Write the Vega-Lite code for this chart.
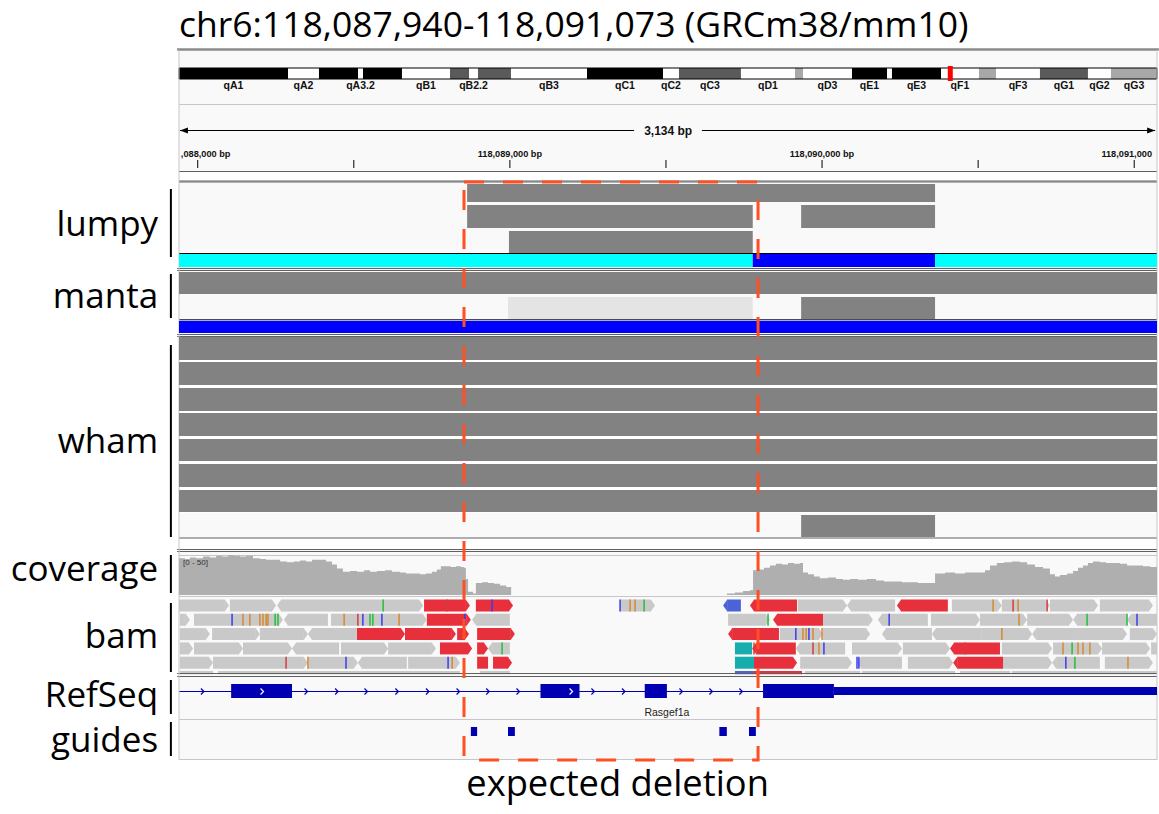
{
"$schema": "https://vega.github.io/schema/vega-lite/v6.json",
"width": 1159, "height": 814, "autosize": "none", "padding": 0,
"background": "#ffffff",
"config": {"view": {"stroke": null}},
"resolve": {"scale": {"x": "independent", "y": "independent"}},
"datasets": {
"panels": [
{"start":118087940,"end":118091073,"top":51,"bottom":171,"kind":"bg"},
{"start":118087940,"end":118091073,"top":171,"bottom":181,"kind":"white"},
{"start":118087940,"end":118091073,"top":183,"bottom":760,"kind":"bg"},
{"start":118087940,"end":118091073,"top":336,"bottom":513,"kind":"white"},
{"start":118087940,"end":118091073,"top":538,"bottom":550,"kind":"white"}
],
"covers": [
{"start":118087940,"end":118091073,"top":674.2,"bottom":760,"kind":"bg"}
],
"bands": [
{"name":"qA1","mbStart":0,"mbEnd":16.69,"top":68,"bottom":79,"kind":"gpos100"},
{"name":"qA2","mbStart":16.69,"mbEnd":21.43,"top":68,"bottom":79,"kind":"gneg"},
{"name":"qA3.1","mbStart":21.43,"mbEnd":27.41,"top":68,"bottom":79,"kind":"gpos100"},
{"name":"qA3.2","mbStart":27.41,"mbEnd":28.17,"top":68,"bottom":79,"kind":"gneg"},
{"name":"qA3.3","mbStart":28.17,"mbEnd":34.14,"top":68,"bottom":79,"kind":"gpos100"},
{"name":"qB1","mbStart":34.14,"mbEnd":41.49,"top":68,"bottom":79,"kind":"gneg"},
{"name":"qB2.1","mbStart":41.49,"mbEnd":44.40,"top":68,"bottom":79,"kind":"gpos75"},
{"name":"qB2.2","mbStart":44.40,"mbEnd":45.78,"top":68,"bottom":79,"kind":"gneg"},
{"name":"qB2.3","mbStart":45.78,"mbEnd":50.83,"top":68,"bottom":79,"kind":"gpos75"},
{"name":"qB3","mbStart":50.83,"mbEnd":62.47,"top":68,"bottom":79,"kind":"gneg"},
{"name":"qC1","mbStart":62.47,"mbEnd":74.10,"top":68,"bottom":79,"kind":"gpos100"},
{"name":"qC2","mbStart":74.10,"mbEnd":76.55,"top":68,"bottom":79,"kind":"gneg"},
{"name":"qC3","mbStart":76.55,"mbEnd":86.04,"top":68,"bottom":79,"kind":"gpos75"},
{"name":"qD1","mbStart":86.04,"mbEnd":94.31,"top":68,"bottom":79,"kind":"gneg"},
{"name":"qD2","mbStart":94.31,"mbEnd":95.54,"top":68,"bottom":79,"kind":"gpos33"},
{"name":"qD3","mbStart":95.54,"mbEnd":103.04,"top":68,"bottom":79,"kind":"gneg"},
{"name":"qE1","mbStart":103.04,"mbEnd":108.40,"top":68,"bottom":79,"kind":"gpos100"},
{"name":"qE2","mbStart":108.40,"mbEnd":109.16,"top":68,"bottom":79,"kind":"gneg"},
{"name":"qE3","mbStart":109.16,"mbEnd":116.67,"top":68,"bottom":79,"kind":"gpos100"},
{"name":"qF1","mbStart":116.67,"mbEnd":122.48,"top":68,"bottom":79,"kind":"gneg"},
{"name":"qF2","mbStart":122.48,"mbEnd":125.09,"top":68,"bottom":79,"kind":"gpos33"},
{"name":"qF3","mbStart":125.09,"mbEnd":131.82,"top":68,"bottom":79,"kind":"gneg"},
{"name":"qG1","mbStart":131.82,"mbEnd":139.17,"top":68,"bottom":79,"kind":"gpos75"},
{"name":"qG2","mbStart":139.17,"mbEnd":142.69,"top":68,"bottom":79,"kind":"gneg"},
{"name":"qG3","mbStart":142.69,"mbEnd":149.74,"top":68,"bottom":79,"kind":"gpos33"}
],
"ideoOutline": [
{"mbStart":0,"mbEnd":149.74,"top":68,"bottom":79}
],
"ideoMarker": [
{"mb":118.0895,"top":66,"bottom":81}
],
"bandLabels": [
{"name":"qA1","mb":8.34,"top":86},{"name":"qA2","mb":19.06,"top":86},{"name":"qA3.2","mb":27.79,"top":86},{"name":"qB1","mb":37.82,"top":86},
{"name":"qB2.2","mb":45.09,"top":86},{"name":"qB3","mb":56.65,"top":86},{"name":"qC1","mb":68.28,"top":86},{"name":"qC2","mb":75.33,"top":86},
{"name":"qC3","mb":81.3,"top":86},{"name":"qD1","mb":90.18,"top":86},{"name":"qD3","mb":99.29,"top":86},{"name":"qE1","mb":105.72,"top":86},
{"name":"qE3","mb":112.92,"top":86},{"name":"qF1","mb":119.57,"top":86},{"name":"qF3","mb":128.46,"top":86},{"name":"qG1","mb":135.5,"top":86},
{"name":"qG2","mb":140.93,"top":86},{"name":"qG3","mb":146.22,"top":86}
],
"hlines": [
{"start":118087940,"end":118091073,"top":104.5,"kind":"line_light"},
{"start":118087943,"end":118089398,"top":130.5,"kind":"line_black"},
{"start":118089615,"end":118091067,"top":130.5,"kind":"line_black"},
{"start":118087940,"end":118091073,"top":171.5,"kind":"line_dark"},
{"start":118087940,"end":118091073,"top":181,"kind":"line_dark"},
{"start":118087940,"end":118091073,"top":182,"kind":"line_dark"},
{"start":118087940,"end":118091073,"top":253.5,"kind":"line_black"},
{"start":118087934,"end":118091073,"top":268.5,"kind":"line_dark"},
{"start":118087934,"end":118091073,"top":270.5,"kind":"line_dark"},
{"start":118087940,"end":118091073,"top":319.8,"kind":"line_black"},
{"start":118087934,"end":118091073,"top":334.5,"kind":"line_dark"},
{"start":118087934,"end":118091073,"top":336.5,"kind":"line_dark"},
{"start":118087940,"end":118091073,"top":538,"kind":"line_dark"},
{"start":118087934,"end":118091073,"top":549.5,"kind":"line_dark"},
{"start":118087934,"end":118091073,"top":551.5,"kind":"line_dark"},
{"start":118087940,"end":118091073,"top":555.5,"kind":"line_light"},
{"start":118087940,"end":118091073,"top":596.5,"kind":"line_light"},
{"start":118087934,"end":118091073,"top":673.5,"kind":"line_dark"},
{"start":118087934,"end":118091073,"top":676.5,"kind":"line_dark"},
{"start":118087940,"end":118089811,"top":691.5,"kind":"line_blue"},
{"start":118087940,"end":118091073,"top":719.5,"kind":"line_light"},
{"start":118087940,"end":118091073,"top":759.5,"kind":"line_light"}
],
"thick": [
{"start":118087934,"end":118091079,"top":49.5,"kind":"line_title"}
],
"vlines": [
{"start":118087940,"top":50,"bottom":760,"kind":"line_light"},
{"start":118091073,"top":50,"bottom":760,"kind":"line_light"},
{"start":118088000,"top":160,"bottom":168,"kind":"line_black"},
{"start":118088500,"top":160,"bottom":168,"kind":"line_black"},
{"start":118089000,"top":160,"bottom":168,"kind":"line_black"},
{"start":118089500,"top":160,"bottom":168,"kind":"line_black"},
{"start":118090000,"top":160,"bottom":168,"kind":"line_black"},
{"start":118090500,"top":160,"bottom":168,"kind":"line_black"},
{"start":118091000,"top":160,"bottom":168,"kind":"line_black"}
],
"brackets": [
{"start":118087914,"top":189,"bottom":257},
{"start":118087914,"top":274,"bottom":318},
{"start":118087914,"top":345,"bottom":537},
{"start":118087914,"top":555,"bottom":593},
{"start":118087914,"top":603,"bottom":672},
{"start":118087914,"top":680,"bottom":714},
{"start":118087914,"top":722,"bottom":756}
],
"rulerArrows": [
{"start":118087943,"top":130.5,"dir":"left","kind":"line_black"},
{"start":118091067,"top":130.5,"dir":"right","kind":"line_black"}
],
"features": [
{"start":118088863,"end":118090362,"top":184,"bottom":202,"kind":"sv"},
{"start":118088863,"end":118089778,"top":205,"bottom":228,"kind":"sv"},
{"start":118089933,"end":118090362,"top":205,"bottom":228,"kind":"sv"},
{"start":118088997,"end":118089778,"top":231,"bottom":253,"kind":"sv"},
{"start":118087940,"end":118089778,"top":254,"bottom":267,"kind":"af_ref"},
{"start":118089778,"end":118090362,"top":254,"bottom":267,"kind":"af_alt"},
{"start":118090362,"end":118091073,"top":254,"bottom":267,"kind":"af_ref"},
{"start":118087940,"end":118091073,"top":272,"bottom":294,"kind":"sv"},
{"start":118088994,"end":118089778,"top":297,"bottom":319,"kind":"sv_light"},
{"start":118089933,"end":118090362,"top":297,"bottom":319,"kind":"sv"},
{"start":118087940,"end":118091073,"top":321,"bottom":333,"kind":"af_alt"},
{"start":118087940,"end":118091073,"top":337,"bottom":360,"kind":"sv"},
{"start":118087940,"end":118091073,"top":362,"bottom":385,"kind":"sv"},
{"start":118087940,"end":118091073,"top":388,"bottom":411,"kind":"sv"},
{"start":118087940,"end":118091073,"top":413,"bottom":436,"kind":"sv"},
{"start":118087940,"end":118091073,"top":439,"bottom":461,"kind":"sv"},
{"start":118087940,"end":118091073,"top":464,"bottom":487,"kind":"sv"},
{"start":118087940,"end":118091073,"top":490,"bottom":512,"kind":"sv"},
{"start":118089933,"end":118090362,"top":515,"bottom":537,"kind":"sv"},
{"start":118088107,"end":118088302,"top":684,"bottom":698,"kind":"exon"},
{"start":118089098,"end":118089223,"top":684,"bottom":698,"kind":"exon"},
{"start":118089432,"end":118089503,"top":684,"bottom":698,"kind":"exon"},
{"start":118089811,"end":118090038,"top":684,"bottom":698,"kind":"exon"},
{"start":118090038,"end":118091073,"top":687,"bottom":695,"kind":"exon"},
{"start":118088875,"end":118088895,"top":727,"bottom":736,"kind":"exon"},
{"start":118088994,"end":118089016,"top":727,"bottom":736,"kind":"exon"},
{"start":118089671,"end":118089695,"top":727,"bottom":736,"kind":"exon"},
{"start":118089766,"end":118089788,"top":727,"bottom":736,"kind":"exon"}
],
"chevrons": [
{"start":118088015,"top":691.5,"kind":"chevron"},{"start":118088347,"top":691.5,"kind":"chevron"},
{"start":118088445,"top":691.5,"kind":"chevron"},{"start":118088539,"top":691.5,"kind":"chevron"},
{"start":118088638,"top":691.5,"kind":"chevron"},{"start":118088736,"top":691.5,"kind":"chevron"},
{"start":118088834,"top":691.5,"kind":"chevron"},{"start":118088929,"top":691.5,"kind":"chevron"},
{"start":118089026,"top":691.5,"kind":"chevron"},{"start":118089266,"top":691.5,"kind":"chevron"},
{"start":118089364,"top":691.5,"kind":"chevron"},{"start":118089548,"top":691.5,"kind":"chevron"},
{"start":118089644,"top":691.5,"kind":"chevron"},{"start":118089740,"top":691.5,"kind":"chevron"},
{"start":118088206,"top":691.5,"kind":"chevron_white"},{"start":118089196,"top":691.5,"kind":"chevron_white"}
],
"coverage": [
{"start":118087940,"depth":46},{"start":118087959,"depth":45},{"start":118087975,"depth":47},{"start":118087994,"depth":46},
{"start":118088017,"depth":48},{"start":118088039,"depth":47},{"start":118088059,"depth":49},{"start":118088078,"depth":48},
{"start":118088097,"depth":50},{"start":118088116,"depth":49},{"start":118088135,"depth":48},{"start":118088155,"depth":49},
{"start":118088177,"depth":46},{"start":118088199,"depth":45},{"start":118088219,"depth":44},{"start":118088238,"depth":44},
{"start":118088264,"depth":42},{"start":118088286,"depth":41},{"start":118088308,"depth":42},{"start":118088328,"depth":43},
{"start":118088347,"depth":42},{"start":118088366,"depth":44},{"start":118088392,"depth":44},{"start":118088411,"depth":42},
{"start":118088430,"depth":38},{"start":118088446,"depth":33},{"start":118088465,"depth":29},{"start":118088488,"depth":30},
{"start":118088510,"depth":29},{"start":118088533,"depth":31},{"start":118088552,"depth":29},{"start":118088574,"depth":30},
{"start":118088600,"depth":31},{"start":118088622,"depth":29},{"start":118088648,"depth":28},{"start":118088667,"depth":27},
{"start":118088690,"depth":27},{"start":118088712,"depth":26},{"start":118088731,"depth":27},{"start":118088750,"depth":29},
{"start":118088766,"depth":32},{"start":118088779,"depth":36},{"start":118088795,"depth":36},{"start":118088811,"depth":35},
{"start":118088827,"depth":36},{"start":118088843,"depth":35},{"start":118088853,"depth":34},{"start":118088859,"depth":20},
{"start":118088866,"depth":4},{"start":118088882,"depth":2},{"start":118088891,"depth":15},{"start":118088911,"depth":16},
{"start":118088930,"depth":15},{"start":118088949,"depth":14},{"start":118088968,"depth":12},{"start":118088988,"depth":10},
{"start":118089004,"depth":0},
{"start":118089695,"depth":2},{"start":118089721,"depth":3},{"start":118089747,"depth":5},{"start":118089769,"depth":6},
{"start":118089779,"depth":31},{"start":118089795,"depth":32},{"start":118089814,"depth":34},{"start":118089833,"depth":37},
{"start":118089852,"depth":39},{"start":118089872,"depth":38},{"start":118089891,"depth":40},{"start":118089910,"depth":39},
{"start":118089929,"depth":40},{"start":118089939,"depth":28},{"start":118089955,"depth":26},{"start":118089974,"depth":23},
{"start":118089993,"depth":21},{"start":118090019,"depth":22},{"start":118090045,"depth":20},{"start":118090067,"depth":19},
{"start":118090090,"depth":20},{"start":118090115,"depth":19},{"start":118090144,"depth":20},{"start":118090173,"depth":18},
{"start":118090198,"depth":17},{"start":118090227,"depth":17},{"start":118090256,"depth":16},{"start":118090282,"depth":16},
{"start":118090307,"depth":15},{"start":118090336,"depth":15},{"start":118090362,"depth":27},{"start":118090394,"depth":28},
{"start":118090426,"depth":27},{"start":118090458,"depth":28},{"start":118090496,"depth":28},{"start":118090522,"depth":31},
{"start":118090538,"depth":37},{"start":118090560,"depth":40},{"start":118090583,"depth":41},{"start":118090608,"depth":42},
{"start":118090634,"depth":41},{"start":118090657,"depth":38},{"start":118090682,"depth":35},{"start":118090708,"depth":33},
{"start":118090730,"depth":26},{"start":118090746,"depth":23},{"start":118090762,"depth":25},{"start":118090785,"depth":27},
{"start":118090804,"depth":30},{"start":118090820,"depth":34},{"start":118090836,"depth":37},{"start":118090852,"depth":40},
{"start":118090868,"depth":42},{"start":118090890,"depth":41},{"start":118090910,"depth":40},{"start":118090929,"depth":40},
{"start":118090954,"depth":39},{"start":118090977,"depth":37},{"start":118091003,"depth":37},{"start":118091028,"depth":36},
{"start":118091051,"depth":35},{"start":118091073,"depth":33}
],
"reads": [
{"start":118087940,"end":118088100,"row":1,"kind":"read","strand":"+"},
{"start":118088103,"end":118088251,"row":1,"kind":"read","strand":"+"},
{"start":118088254,"end":118088568,"row":1,"kind":"read","strand":"-"},
{"start":118088568,"end":118088722,"row":1,"kind":"read","strand":"+"},
{"start":118088725,"end":118088872,"row":1,"kind":"read_disc","strand":"+"},
{"start":118088891,"end":118089010,"row":1,"kind":"read_disc","strand":"+"},
{"start":118089353,"end":118089465,"row":1,"kind":"read","strand":"+"},
{"start":118089683,"end":118089740,"row":1,"kind":"read_blue","strand":"-"},
{"start":118089769,"end":118089920,"row":1,"kind":"read_disc","strand":"-"},
{"start":118089923,"end":118090080,"row":1,"kind":"read","strand":"+"},
{"start":118090080,"end":118090234,"row":1,"kind":"read","strand":"-"},
{"start":118090240,"end":118090403,"row":1,"kind":"read_disc","strand":"-"},
{"start":118090416,"end":118090576,"row":1,"kind":"read","strand":"+"},
{"start":118090576,"end":118090730,"row":1,"kind":"read","strand":"+"},
{"start":118090730,"end":118090884,"row":1,"kind":"read","strand":"+"},
{"start":118090890,"end":118091060,"row":1,"kind":"read","strand":"+"},
{"start":118087943,"end":118087975,"row":2,"kind":"read","strand":"+"},
{"start":118087988,"end":118088273,"row":2,"kind":"read","strand":"+"},
{"start":118088276,"end":118088417,"row":2,"kind":"read","strand":"-"},
{"start":118088427,"end":118088734,"row":2,"kind":"read","strand":"+"},
{"start":118088734,"end":118088875,"row":2,"kind":"read_disc","strand":"+"},
{"start":118088879,"end":118089000,"row":2,"kind":"read","strand":"-"},
{"start":118089699,"end":118089833,"row":2,"kind":"read","strand":"+"},
{"start":118089843,"end":118090003,"row":2,"kind":"read_disc","strand":"-"},
{"start":118090003,"end":118090163,"row":2,"kind":"read","strand":"+"},
{"start":118090179,"end":118090339,"row":2,"kind":"read","strand":"-"},
{"start":118090349,"end":118090506,"row":2,"kind":"read","strand":"+"},
{"start":118090506,"end":118090657,"row":2,"kind":"read","strand":"+"},
{"start":118090657,"end":118090804,"row":2,"kind":"read","strand":"+"},
{"start":118090804,"end":118090977,"row":2,"kind":"read","strand":"-"},
{"start":118090977,"end":118091073,"row":2,"kind":"read","strand":"-"},
{"start":118087943,"end":118088039,"row":3,"kind":"read","strand":"+"},
{"start":118088046,"end":118088199,"row":3,"kind":"read","strand":"+"},
{"start":118088199,"end":118088353,"row":3,"kind":"read","strand":"+"},
{"start":118088353,"end":118088510,"row":3,"kind":"read","strand":"-"},
{"start":118088510,"end":118088664,"row":3,"kind":"read_disc","strand":"+"},
{"start":118088664,"end":118088827,"row":3,"kind":"read_disc","strand":"+"},
{"start":118088831,"end":118088869,"row":3,"kind":"read_disc","strand":"+"},
{"start":118088895,"end":118089016,"row":3,"kind":"read_disc","strand":"+"},
{"start":118089699,"end":118089862,"row":3,"kind":"read_disc","strand":"-"},
{"start":118089865,"end":118090003,"row":3,"kind":"read","strand":"+"},
{"start":118090003,"end":118090154,"row":3,"kind":"read","strand":"+"},
{"start":118090192,"end":118090352,"row":3,"kind":"read","strand":"-"},
{"start":118090352,"end":118090512,"row":3,"kind":"read","strand":"-"},
{"start":118090512,"end":118090673,"row":3,"kind":"read","strand":"+"},
{"start":118090673,"end":118090820,"row":3,"kind":"read","strand":"-"},
{"start":118090820,"end":118090977,"row":3,"kind":"read","strand":"+"},
{"start":118090986,"end":118091073,"row":3,"kind":"read","strand":"+"},
{"start":118087943,"end":118087985,"row":4,"kind":"read","strand":"+"},
{"start":118087988,"end":118088145,"row":4,"kind":"read","strand":"+"},
{"start":118088145,"end":118088302,"row":4,"kind":"read","strand":"+"},
{"start":118088302,"end":118088453,"row":4,"kind":"read","strand":"-"},
{"start":118088459,"end":118088610,"row":4,"kind":"read","strand":"+"},
{"start":118088610,"end":118088763,"row":4,"kind":"read","strand":"+"},
{"start":118088776,"end":118088879,"row":4,"kind":"read_disc","strand":"+"},
{"start":118088895,"end":118088930,"row":4,"kind":"read_disc","strand":"+"},
{"start":118088930,"end":118089000,"row":4,"kind":"read","strand":"-"},
{"start":118089721,"end":118089776,"row":4,"kind":"read_teal","strand":"."},
{"start":118089776,"end":118089916,"row":4,"kind":"read_disc","strand":"-"},
{"start":118089916,"end":118090074,"row":4,"kind":"read","strand":"-"},
{"start":118090096,"end":118090256,"row":4,"kind":"read","strand":"+"},
{"start":118090259,"end":118090410,"row":4,"kind":"read","strand":"+"},
{"start":118090410,"end":118090570,"row":4,"kind":"read_disc","strand":"-"},
{"start":118090576,"end":118090737,"row":4,"kind":"read","strand":"+"},
{"start":118090740,"end":118090897,"row":4,"kind":"read","strand":"+"},
{"start":118090897,"end":118091051,"row":4,"kind":"read","strand":"+"},
{"start":118091054,"end":118091073,"row":4,"kind":"read","strand":"."},
{"start":118087943,"end":118088049,"row":5,"kind":"read","strand":"+"},
{"start":118088049,"end":118088353,"row":5,"kind":"read","strand":"+"},
{"start":118088353,"end":118088513,"row":5,"kind":"read","strand":"+"},
{"start":118088513,"end":118088670,"row":5,"kind":"read","strand":"-"},
{"start":118088674,"end":118088840,"row":5,"kind":"read","strand":"+"},
{"start":118088895,"end":118088930,"row":5,"kind":"read_disc","strand":"."},
{"start":118088946,"end":118089007,"row":5,"kind":"read_disc","strand":"+"},
{"start":118089721,"end":118089782,"row":5,"kind":"read_teal","strand":"."},
{"start":118089782,"end":118089920,"row":5,"kind":"read_disc","strand":"+"},
{"start":118089930,"end":118090096,"row":5,"kind":"read","strand":"+"},
{"start":118090112,"end":118090256,"row":5,"kind":"read","strand":"-"},
{"start":118090275,"end":118090420,"row":5,"kind":"read","strand":"+"},
{"start":118090420,"end":118090580,"row":5,"kind":"read_disc","strand":"-"},
{"start":118090580,"end":118090737,"row":5,"kind":"read","strand":"+"},
{"start":118090737,"end":118090890,"row":5,"kind":"read","strand":"-"},
{"start":118090906,"end":118091060,"row":5,"kind":"read","strand":"+"},
{"start":118087943,"end":118088049,"row":6,"kind":"read","strand":"."},
{"start":118088065,"end":118088840,"row":6,"kind":"read","strand":"."},
{"start":118088904,"end":118089000,"row":6,"kind":"read","strand":"."},
{"start":118089721,"end":118089779,"row":6,"kind":"read_blue","strand":"."},
{"start":118089779,"end":118089936,"row":6,"kind":"read_disc","strand":"."},
{"start":118089945,"end":118090122,"row":6,"kind":"read","strand":"."},
{"start":118090128,"end":118090426,"row":6,"kind":"read","strand":"."},
{"start":118090442,"end":118090602,"row":6,"kind":"read","strand":"."},
{"start":118090608,"end":118091073,"row":6,"kind":"read","strand":"."}
],
"mismatches": [
{"start":118088594,"row":1,"kind":"A"},{"start":118088799,"row":1,"kind":"T"},{"start":118088943,"row":1,"kind":"C"},
{"start":118089353,"row":1,"kind":"C"},{"start":118089385,"row":1,"kind":"G"},{"start":118089401,"row":1,"kind":"G"},
{"start":118089430,"row":1,"kind":"A"},{"start":118090548,"row":1,"kind":"G"},{"start":118090612,"row":1,"kind":"T"},
{"start":118090628,"row":1,"kind":"G"},{"start":118090721,"row":1,"kind":"T"},
{"start":118088110,"row":2,"kind":"C"},{"start":118088145,"row":2,"kind":"G"},{"start":118088167,"row":2,"kind":"G"},
{"start":118088199,"row":2,"kind":"G"},{"start":118088209,"row":2,"kind":"G"},{"start":118088219,"row":2,"kind":"G"},
{"start":118088225,"row":2,"kind":"G"},{"start":118088248,"row":2,"kind":"A"},{"start":118088257,"row":2,"kind":"A"},
{"start":118088469,"row":2,"kind":"G"},{"start":118088513,"row":2,"kind":"T"},{"start":118088529,"row":2,"kind":"C"},
{"start":118088552,"row":2,"kind":"A"},{"start":118088561,"row":2,"kind":"A"},{"start":118088590,"row":2,"kind":"C"},
{"start":118088645,"row":2,"kind":"G"},{"start":118088856,"row":2,"kind":"C"},{"start":118089827,"row":2,"kind":"A"},
{"start":118090215,"row":2,"kind":"C"},{"start":118090631,"row":2,"kind":"G"},{"start":118090849,"row":2,"kind":"A"},
{"start":118090977,"row":2,"kind":"A"},{"start":118091009,"row":2,"kind":"C"},
{"start":118088991,"row":3,"kind":"T"},{"start":118089916,"row":3,"kind":"C"},{"start":118089939,"row":3,"kind":"G"},
{"start":118089949,"row":3,"kind":"G"},{"start":118089958,"row":3,"kind":"C"},{"start":118089971,"row":3,"kind":"G"},
{"start":118090000,"row":3,"kind":"G"},{"start":118090576,"row":3,"kind":"G"},
{"start":118088975,"row":4,"kind":"A"},{"start":118089782,"row":4,"kind":"T"},{"start":118089971,"row":4,"kind":"T"},
{"start":118089990,"row":4,"kind":"G"},{"start":118090006,"row":4,"kind":"C"},{"start":118090458,"row":4,"kind":"T"},
{"start":118090772,"row":4,"kind":"G"},{"start":118090801,"row":4,"kind":"A"},{"start":118090820,"row":4,"kind":"G"},
{"start":118090836,"row":4,"kind":"G"},{"start":118090858,"row":4,"kind":"G"},
{"start":118088283,"row":5,"kind":"T"},{"start":118088353,"row":5,"kind":"G"},{"start":118088475,"row":5,"kind":"C"},
{"start":118088802,"row":5,"kind":"C"},{"start":118088815,"row":5,"kind":"G"},{"start":118090112,"row":5,"kind":"C"},
{"start":118090118,"row":5,"kind":"C"},{"start":118090781,"row":5,"kind":"C"},{"start":118090810,"row":5,"kind":"A"},
{"start":118090980,"row":5,"kind":"G"}
],
"texts": [
{"text":"chr6:118,087,940-118,091,073 (GRCm38/mm10)","start":118087940,"top":37,"role":"title"},
{"text":"lumpy","start":118087873,"top":236,"role":"track"},
{"text":"manta","start":118087873,"top":308,"role":"track"},
{"text":"wham","start":118087873,"top":453,"role":"track"},
{"text":"coverage","start":118087873,"top":581,"role":"track"},
{"text":"bam","start":118087873,"top":648,"role":"track"},
{"text":"RefSeq","start":118087873,"top":707,"role":"track"},
{"text":"guides","start":118087873,"top":752,"role":"track"},
{"text":"118,089,000 bp","start":118089000,"top":153.5,"role":"tick"},
{"text":"118,090,000 bp","start":118090000,"top":153.5,"role":"tick"},
{"text":",088,000 bp","start":118087946,"top":153.5,"role":"tickLeft"},
{"text":"118,091,000","start":118091057,"top":153.5,"role":"tickRight"},
{"text":"3,134 bp","start":118089507,"top":131,"role":"span"},
{"text":"[0 - 50]","start":118087953,"top":563,"role":"range"},
{"text":"Rasgef1a","start":118089503,"top":713,"role":"gene"},
{"text":"expected deletion","start":118089345,"top":796,"role":"deletion"}
]
},
"encoding": {
"x": {"field": "start", "type": "quantitative", "axis": null, "scale": {"domain": [118087940, 118091073], "range": [179, 1157], "nice": false, "zero": false}},
"y": {"field": "top", "type": "quantitative", "axis": null, "scale": {"domain": [0, 814], "range": [0, 814], "nice": false, "zero": false}},
"color": {"field": "kind", "type": "nominal", "legend": null, "scale": {
"domain": ["bg","white","gneg","gpos100","gpos75","gpos33","sv","sv_light","af_ref","af_alt","read","read_disc","read_blue","read_teal","exon","A","C","G","T","line_dark","line_light","line_black","line_blue","line_title","chevron","chevron_white","deletion"],
"range": ["#f9f9f9","#ffffff","#ffffff","#000000","#5a5a5a","#a8a8a8","#828282","#e4e4e4","#00ffff","#0000ff","#c9c9c9","#e7303c","#4c63d8","#17adad","#0000b2","#22c038","#3a3cf0","#d7892c","#d63b3b","#606060","#c6c6ce","#000000","#0000b2","#8a8a8a","#0000b2","#ffffff","#ff4f23"]}}
},
"layer": [
{"data": {"name": "panels"}, "mark": {"type": "rect"}, "encoding": {"x2": {"field": "end"}, "y2": {"field": "bottom"}}},
{"data": {"name": "bands"}, "mark": {"type": "rect"},
 "encoding": {"x": {"field": "mbStart", "type": "quantitative", "axis": null, "scale": {"domain": [0, 149.74], "range": [179, 1157], "nice": false, "zero": false}}, "x2": {"field": "mbEnd"}, "y2": {"field": "bottom"}}},
{"data": {"name": "ideoOutline"}, "mark": {"type": "rect", "filled": false, "strokeWidth": 1},
 "encoding": {"x": {"field": "mbStart", "type": "quantitative", "axis": null, "scale": {"domain": [0, 149.74], "range": [179, 1157], "nice": false, "zero": false}}, "x2": {"field": "mbEnd"}, "y2": {"field": "bottom"}, "color": {"value": "#000000"}}},
{"data": {"name": "bandLabels"}, "mark": {"type": "text", "font": "Liberation Sans", "fontWeight": "bold", "fontSize": 10.5, "baseline": "middle", "align": "center"},
 "encoding": {"x": {"field": "mb", "type": "quantitative", "axis": null, "scale": {"domain": [0, 149.74], "range": [179, 1157], "nice": false, "zero": false}}, "text": {"field": "name"}, "color": {"value": "#111111"}}},
{"data": {"name": "ideoMarker"}, "mark": {"type": "rule", "strokeWidth": 5},
 "encoding": {"x": {"field": "mb", "type": "quantitative", "axis": null, "scale": {"domain": [0, 149.74], "range": [179, 1157], "nice": false, "zero": false}}, "y2": {"field": "bottom"}, "color": {"value": "#ff0000"}}},
{"data": {"name": "reads"}, "transform": [{"filter": "datum.strand === '+'"}], "mark": {"type": "rule", "strokeWidth": 12, "x2Offset": -4},
 "encoding": {"x2": {"field": "end"}, "y": {"field": "row", "type": "quantitative", "axis": null, "scale": {"domain": [1, 6], "range": [605.5, 677], "nice": false, "zero": false}}}},
{"data": {"name": "reads"}, "transform": [{"filter": "datum.strand === '-'"}], "mark": {"type": "rule", "strokeWidth": 12, "xOffset": 4},
 "encoding": {"x2": {"field": "end"}, "y": {"field": "row", "type": "quantitative", "axis": null, "scale": {"domain": [1, 6], "range": [605.5, 677], "nice": false, "zero": false}}}},
{"data": {"name": "reads"}, "transform": [{"filter": "datum.strand === '.'"}], "mark": {"type": "rule", "strokeWidth": 12},
 "encoding": {"x2": {"field": "end"}, "y": {"field": "row", "type": "quantitative", "axis": null, "scale": {"domain": [1, 6], "range": [605.5, 677], "nice": false, "zero": false}}}},
{"data": {"name": "reads"}, "transform": [{"filter": "datum.strand === '+'"}], "mark": {"type": "point", "filled": true, "opacity": 1, "size": 144, "strokeWidth": 0, "shape": "M-0.7,-1L0,0L-0.7,1Z"},
 "encoding": {"x": {"field": "end", "type": "quantitative", "axis": null, "scale": {"domain": [118087940, 118091073], "range": [179, 1157], "nice": false, "zero": false}},
  "y": {"field": "row", "type": "quantitative", "axis": null, "scale": {"domain": [1, 6], "range": [605.5, 677], "nice": false, "zero": false}}}},
{"data": {"name": "reads"}, "transform": [{"filter": "datum.strand === '-'"}], "mark": {"type": "point", "filled": true, "opacity": 1, "size": 144, "strokeWidth": 0, "shape": "M0.7,-1L0,0L0.7,1Z"},
 "encoding": {"y": {"field": "row", "type": "quantitative", "axis": null, "scale": {"domain": [1, 6], "range": [605.5, 677], "nice": false, "zero": false}}}},
{"data": {"name": "mismatches"}, "mark": {"type": "tick", "orient": "vertical", "size": 12, "thickness": 1.5, "opacity": 1},
 "encoding": {"y": {"field": "row", "type": "quantitative", "axis": null, "scale": {"domain": [1, 6], "range": [605.5, 677], "nice": false, "zero": false}}}},
{"data": {"name": "covers"}, "mark": {"type": "rect"}, "encoding": {"x2": {"field": "end"}, "y2": {"field": "bottom"}}},
{"data": {"name": "hlines"}, "mark": {"type": "rule", "strokeWidth": 1}, "encoding": {"x2": {"field": "end"}}},
{"data": {"name": "thick"}, "mark": {"type": "rule", "strokeWidth": 2.5}, "encoding": {"x2": {"field": "end"}}},
{"data": {"name": "vlines"}, "mark": {"type": "rule", "strokeWidth": 1}, "encoding": {"y2": {"field": "bottom"}}},
{"data": {"name": "brackets"}, "mark": {"type": "rule", "strokeWidth": 2}, "encoding": {"y2": {"field": "bottom"}, "color": {"value": "#000000"}}},
{"data": {"name": "rulerArrows"}, "mark": {"type": "point", "filled": true, "opacity": 1, "size": 16, "strokeWidth": 0},
 "encoding": {"shape": {"field": "dir", "type": "nominal", "legend": null, "scale": {"domain": ["left", "right"], "range": ["M0,0L4,-1.5L4,1.5Z", "M0,0L-4,-1.5L-4,1.5Z"]}}}},
{"data": {"name": "features"}, "mark": {"type": "rect"}, "encoding": {"x2": {"field": "end"}, "y2": {"field": "bottom"}}},
{"data": {"name": "coverage"}, "mark": {"type": "area", "interpolate": "step-after", "opacity": 1},
 "encoding": {"y": {"field": "depth", "type": "quantitative", "axis": null, "scale": {"domain": [0, 50], "range": [595, 555], "nice": false, "zero": true}}, "y2": {"datum": 0}, "color": {"value": "#afafaf"}}},
{"data": {"name": "chevrons"}, "mark": {"type": "point", "filled": false, "opacity": 1, "size": 36, "strokeWidth": 1.2, "shape": "M-0.5,-1L0.5,0L-0.5,1"}},
{"data": {"name": "texts"}, "transform": [{"filter": "datum.role === 'title'"}], "mark": {"type": "text", "font": "Open Sans", "fontSize": 35.5, "align": "left", "baseline": "alphabetic"},
 "encoding": {"text": {"field": "text"}, "color": {"value": "#000000"}}},
{"data": {"name": "texts"}, "transform": [{"filter": "datum.role === 'track'"}], "mark": {"type": "text", "font": "Open Sans", "fontSize": 35, "align": "right", "baseline": "alphabetic"},
 "encoding": {"text": {"field": "text"}, "color": {"value": "#000000"}}},
{"data": {"name": "texts"}, "transform": [{"filter": "datum.role === 'deletion'"}], "mark": {"type": "text", "font": "Open Sans", "fontSize": 36.3, "align": "center", "baseline": "alphabetic"},
 "encoding": {"text": {"field": "text"}, "color": {"value": "#000000"}}},
{"data": {"name": "texts"}, "transform": [{"filter": "datum.role === 'tick'"}], "mark": {"type": "text", "font": "Liberation Sans", "fontWeight": "bold", "fontSize": 9.2, "align": "center", "baseline": "middle"},
 "encoding": {"text": {"field": "text"}, "color": {"value": "#111111"}}},
{"data": {"name": "texts"}, "transform": [{"filter": "datum.role === 'tickLeft'"}], "mark": {"type": "text", "font": "Liberation Sans", "fontWeight": "bold", "fontSize": 9.2, "align": "left", "baseline": "middle"},
 "encoding": {"text": {"field": "text"}, "color": {"value": "#111111"}}},
{"data": {"name": "texts"}, "transform": [{"filter": "datum.role === 'tickRight'"}], "mark": {"type": "text", "font": "Liberation Sans", "fontWeight": "bold", "fontSize": 9.2, "align": "right", "baseline": "middle"},
 "encoding": {"text": {"field": "text"}, "color": {"value": "#111111"}}},
{"data": {"name": "texts"}, "transform": [{"filter": "datum.role === 'span'"}], "mark": {"type": "text", "font": "Liberation Sans", "fontWeight": "bold", "fontSize": 12, "align": "center", "baseline": "middle"},
 "encoding": {"text": {"field": "text"}, "color": {"value": "#111111"}}},
{"data": {"name": "texts"}, "transform": [{"filter": "datum.role === 'range'"}], "mark": {"type": "text", "font": "Liberation Sans", "fontSize": 8, "align": "left", "baseline": "middle"},
 "encoding": {"text": {"field": "text"}, "color": {"value": "#333333"}}},
{"data": {"name": "texts"}, "transform": [{"filter": "datum.role === 'gene'"}], "mark": {"type": "text", "font": "Liberation Sans", "fontSize": 10.5, "align": "center", "baseline": "middle"},
 "encoding": {"text": {"field": "text"}, "color": {"value": "#222222"}}},
{"data": {"values": [{"start": 118088853, "end": 118089795, "top": 182, "bottom": 760, "kind": "deletion"}]}, "mark": {"type": "rect", "filled": false, "strokeWidth": 3, "strokeDash": [20, 19]},
 "encoding": {"x2": {"field": "end"}, "y2": {"field": "bottom"}}}
]
}
